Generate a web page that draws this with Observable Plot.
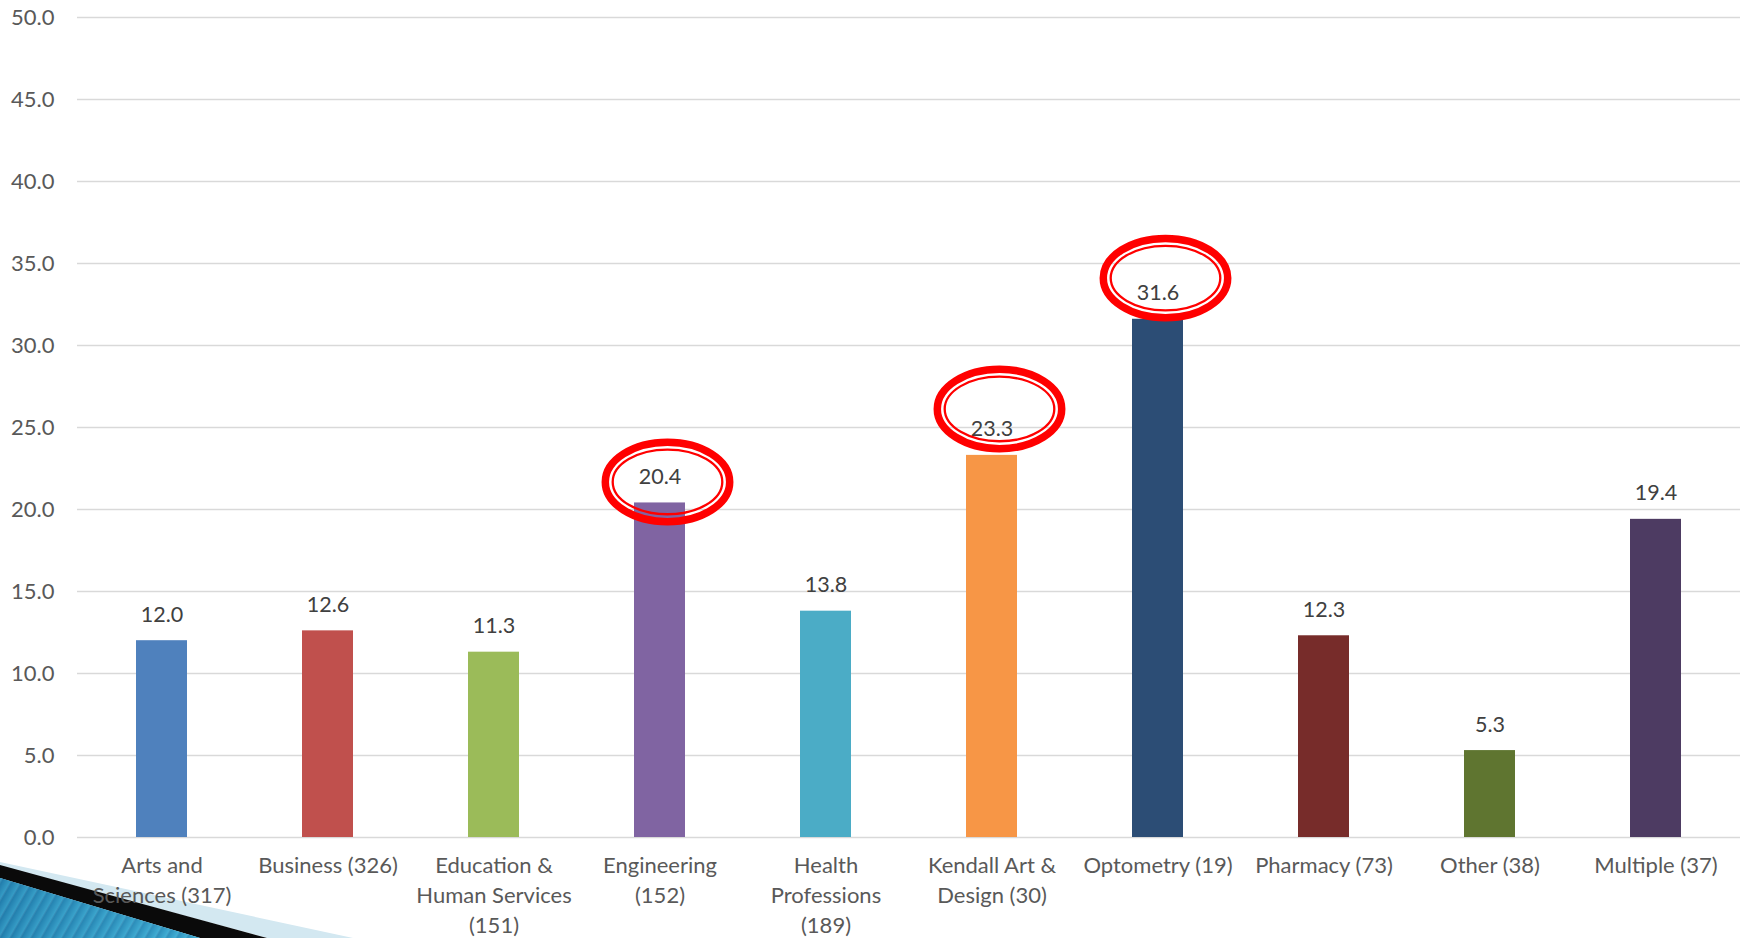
<!DOCTYPE html>
<html><head><meta charset="utf-8">
<script src="https://cdn.jsdelivr.net/npm/d3@7"></script>
<script src="https://cdn.jsdelivr.net/npm/@observablehq/plot@0.6"></script>
<style>
html,body{margin:0;padding:0;background:#fff;}
#chart{position:relative;width:1740px;height:938px;overflow:hidden;background:#fff}
</style></head><body><div id="chart"></div>
<script>
const categories = ["Arts and Sciences","Business","Education & Human Services","Engineering","Health Professions","Kendall Art & Design","Optometry","Pharmacy","Other","Multiple"];
const tickLabels = ["Arts and\nSciences (317)","Business (326)","Education &\nHuman Services\n(151)","Engineering\n(152)","Health\nProfessions\n(189)","Kendall Art &\nDesign (30)","Optometry (19)","Pharmacy (73)","Other (38)","Multiple (37)"];
const values = [12.0, 12.6, 11.3, 20.4, 13.8, 23.3, 31.6, 12.3, 5.3, 19.4];
const yTicks = [0, 5, 10, 15, 20, 25, 30, 35, 40, 45, 50];
const circledCategories = ["Engineering", "Kendall Art & Design", "Optometry"];
const circleCenters = [21.65, 26.1, 34.08];

const palette = ["#4F81BD","#C0504D","#9BBB59","#8064A2","#4BACC6","#F79646","#2C4D75","#772C2A","#5F7530","#4D3B62"];

const data = categories.map((c, i) => ({category: c, value: values[i]}));
const circled = circledCategories.map((c, i) => ({category: c, cy: circleCenters[i]}));

const plot = Plot.plot({
  width: 1740, height: 938,
  marginLeft: 77, marginRight: 0, marginTop: 17, marginBottom: 101,
  style: {fontFamily: "Lato, sans-serif", background: "transparent", overflow: "visible"},
  x: {domain: categories, paddingInner: 0.69, paddingOuter: 0.345, align: 0.5},
  y: {domain: [0, 50]},
  color: {domain: categories, range: palette},
  marks: [
    Plot.ruleY(yTicks, {stroke: "#d9d9d9", strokeWidth: 1.5}),
    Plot.barY(data, {x: "category", y: "value", fill: "category"}),
    Plot.text(data, {x: "category", y: "value", text: d => d.value.toFixed(1), dy: -19, lineAnchor: "bottom", fill: "#404040", fontSize: 21.5}),
    Plot.axisY({ticks: yTicks, tickFormat: d => d.toFixed(1), tickSize: 0, tickPadding: 23, fontSize: 22, fill: "#595959", label: null}),
    Plot.axisX({tickSize: 0, tickPadding: 14, tickFormat: d => tickLabels[categories.indexOf(d)], fontSize: 22, lineHeight: 1.36, fill: "#595959", label: null})
  ]
});

document.getElementById("chart").appendChild(plot);

const svg = d3.select(plot);
const xs = plot.scale("x"), ys = plot.scale("y");

// decorative slide corner
const defs = svg.insert("defs", ":first-child");
const grad = defs.append("linearGradient").attr("id", "blueg").attr("x1", "0").attr("y1", "0").attr("x2", "1").attr("y2", "0");
grad.append("stop").attr("offset", "0").attr("stop-color", "#1e78a8");
grad.append("stop").attr("offset", "1").attr("stop-color", "#45b3d8");
const pat = defs.append("pattern").attr("id", "stripes").attr("width", 9).attr("height", 9)
  .attr("patternUnits", "userSpaceOnUse").attr("patternTransform", "rotate(30)");
pat.append("rect").attr("width", 9).attr("height", 9).attr("fill", "url(#blueg)");
pat.append("line").attr("x1", 0).attr("y1", 0).attr("x2", 0).attr("y2", 9).attr("stroke", "#ffffff").attr("stroke-opacity", 0.15).attr("stroke-width", 2);
const deco = svg.insert("g", "g");
deco.append("polygon").attr("points", "0,862 353,938 267,938 0,866").attr("fill", "#d3e8f1");
deco.append("polygon").attr("points", "0,865 267,938 200,938 0,878").attr("fill", "#0a0a0a");
deco.append("polygon").attr("points", "0,878 200,938 0,938").attr("fill", "url(#blueg)");
deco.append("polygon").attr("points", "0,878 200,938 0,938").attr("fill", "url(#stripes)").attr("opacity", 0.6);

// red double ellipses
const eg = svg.append("g");
circled.forEach(d => {
  const cx = xs.apply(d.category) + xs.bandwidth / 2 + 8;
  const cy = ys.apply(d.cy);
  eg.append("ellipse").attr("cx", cx).attr("cy", cy).attr("rx", 62.2).attr("ry", 39.7)
    .attr("fill", "none").attr("stroke", "#ff0000").attr("stroke-width", 7.5);
  eg.append("ellipse").attr("cx", cx).attr("cy", cy).attr("rx", 54.8).attr("ry", 32.3)
    .attr("fill", "none").attr("stroke", "#ff0000").attr("stroke-width", 2.3);
});
</script></body></html>
